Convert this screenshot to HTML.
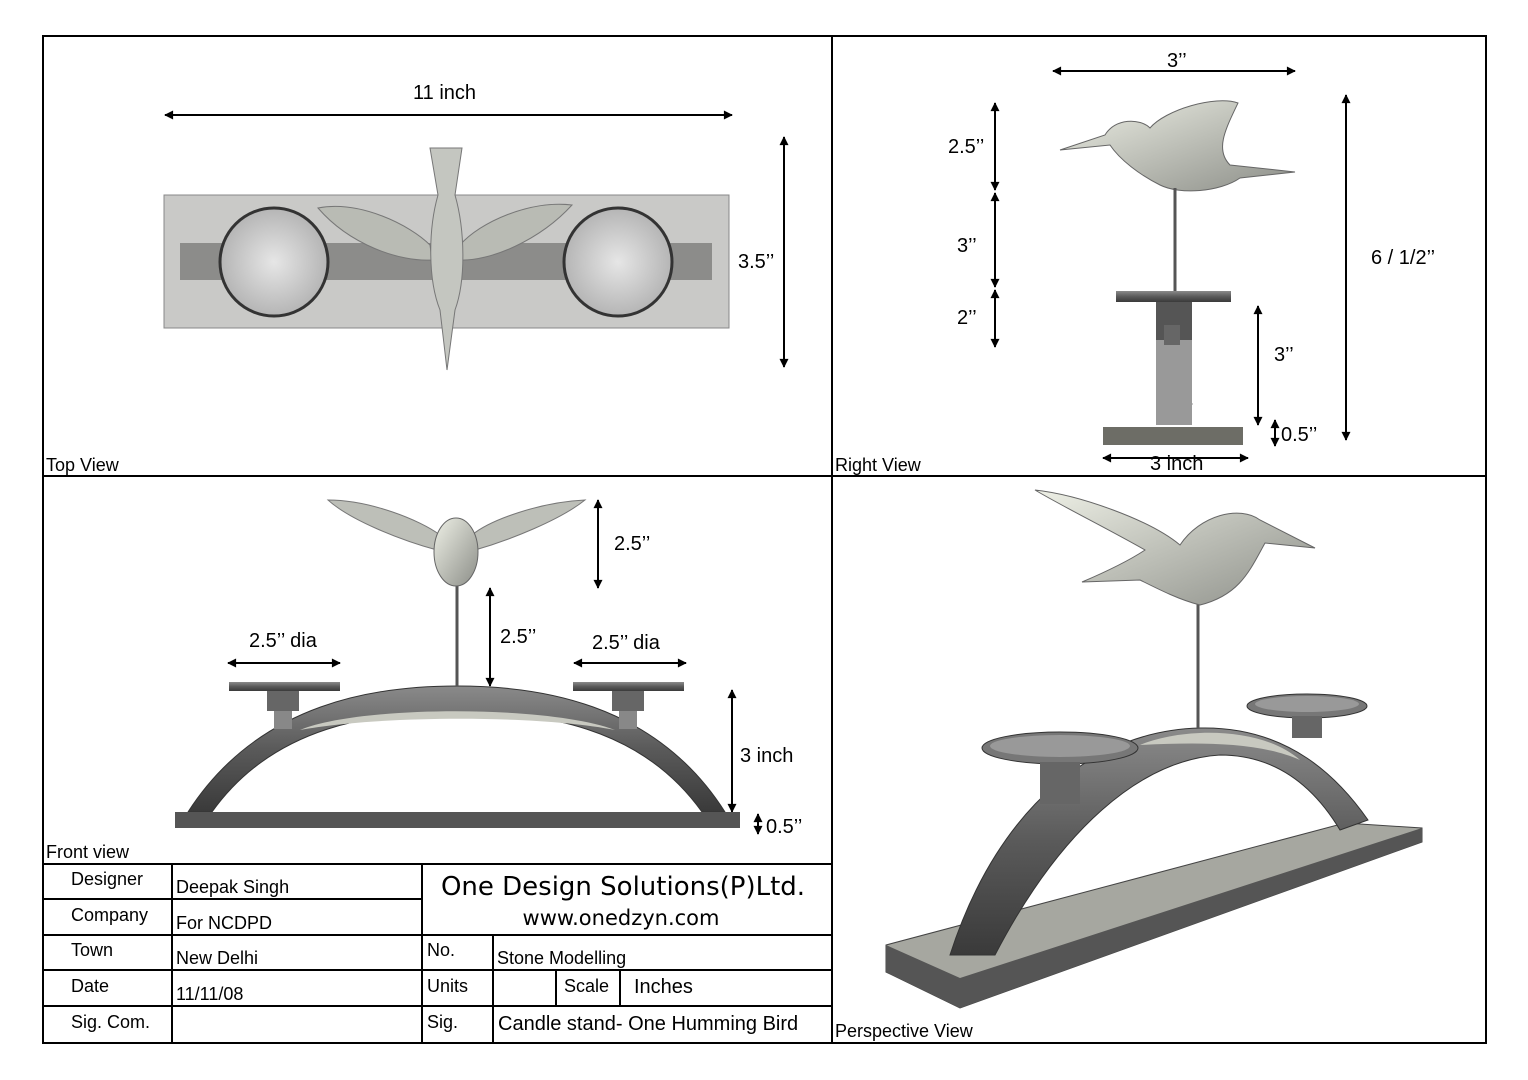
<!DOCTYPE html>
<html><head><meta charset="utf-8"><style>
body{margin:0;background:#fff}
svg{display:block;font-family:"Liberation Sans",sans-serif}
</style></head><body>
<svg width="1528" height="1080" viewBox="0 0 1528 1080" xmlns="http://www.w3.org/2000/svg">
<defs>
<marker id="a" viewBox="0 0 10 10" refX="9" refY="5" markerWidth="14" markerHeight="9" orient="auto-start-reverse" markerUnits="userSpaceOnUse"><path d="M0,0 L10,5 L0,10 z" fill="#000"/></marker>
<linearGradient id="bg" x1="0" y1="0" x2="1" y2="1"><stop offset="0" stop-color="#eef0e6"/><stop offset="1" stop-color="#8c8e88"/></linearGradient>
<radialGradient id="cg"><stop offset="0" stop-color="#e6e6e6"/><stop offset="1" stop-color="#b5b5b5"/></radialGradient>
<linearGradient id="dk" x1="0" y1="0" x2="0" y2="1"><stop offset="0" stop-color="#8a8a8a"/><stop offset=".5" stop-color="#5a5a5a"/><stop offset="1" stop-color="#3a3a3a"/></linearGradient>
</defs>
<g fill="none" stroke="#000" stroke-width="2">
<rect x="43" y="36" width="1443" height="1007"/>
<line x1="832" y1="36" x2="832" y2="1043"/>
<line x1="43" y1="476" x2="1486" y2="476"/>
<line x1="43" y1="864" x2="832" y2="864"/>
<line x1="43" y1="899" x2="422" y2="899"/>
<line x1="43" y1="935" x2="832" y2="935"/>
<line x1="43" y1="970" x2="832" y2="970"/>
<line x1="43" y1="1006" x2="832" y2="1006"/>
<line x1="172" y1="864" x2="172" y2="1043"/>
<line x1="422" y1="864" x2="422" y2="1043"/>
<line x1="493" y1="935" x2="493" y2="1043"/>
<line x1="556" y1="970" x2="556" y2="1006"/>
<line x1="620" y1="970" x2="620" y2="1006"/>
</g>
<g font-size="18" fill="#000">
<text x="71" y="885">Designer</text><text x="71" y="921">Company</text><text x="71" y="956">Town</text><text x="71" y="992">Date</text><text x="71" y="1028">Sig. Com.</text>
<text x="176" y="893">Deepak Singh</text><text x="176" y="929">For NCDPD</text><text x="176" y="964">New Delhi</text><text x="176" y="1000">11/11/08</text>
<text x="427" y="956">No.</text><text x="427" y="992">Units</text><text x="427" y="1028">Sig.</text>
<text x="497" y="964">Stone Modelling</text><text x="564" y="992">Scale</text><text x="634" y="993" font-size="20">Inches</text>
<text x="498" y="1030" font-size="20">Candle stand- One Humming Bird</text>
<text x="623" y="895" font-size="26" text-anchor="middle" font-family="DejaVu Sans,sans-serif">One Design Solutions(P)Ltd.</text>
<text x="621" y="925" font-size="21" text-anchor="middle" font-family="DejaVu Sans,sans-serif">www.onedzyn.com</text>
<text x="46" y="471">Top View</text><text x="835" y="471">Right View</text><text x="46" y="858">Front view</text><text x="835" y="1037">Perspective View</text>
</g>
<g stroke="#000" stroke-width="2" marker-start="url(#a)" marker-end="url(#a)">
<line x1="165" y1="115" x2="732" y2="115"/>
<line x1="784" y1="137" x2="784" y2="367"/>
<line x1="1053" y1="71" x2="1295" y2="71"/>
<line x1="995" y1="103" x2="995" y2="190"/>
<line x1="995" y1="193" x2="995" y2="287"/>
<line x1="995" y1="290" x2="995" y2="347"/>
<line x1="1346" y1="95" x2="1346" y2="440"/>
<line x1="1258" y1="306" x2="1258" y2="425"/>
<line x1="1275" y1="420" x2="1275" y2="446"/>
<line x1="1103" y1="458" x2="1248" y2="458"/>
<line x1="1158" y1="404" x2="1192" y2="404"/>
<line x1="598" y1="500" x2="598" y2="588"/>
<line x1="490" y1="588" x2="490" y2="686"/>
<line x1="228" y1="663" x2="340" y2="663"/>
<line x1="574" y1="663" x2="686" y2="663"/>
<line x1="732" y1="690" x2="732" y2="812"/>
<line x1="758" y1="814" x2="758" y2="834"/>
</g>
<g font-size="20" fill="#000">
<text x="413" y="99">11 inch</text><text x="738" y="268">3.5’’</text>
<text x="1167" y="67">3’’</text><text x="948" y="153">2.5’’</text><text x="957" y="252">3’’</text><text x="957" y="324">2’’</text>
<text x="1371" y="264">6 / 1/2’’</text><text x="1274" y="361">3’’</text><text x="1281" y="441">0.5’’</text><text x="1164" y="391">1’’</text><text x="1150" y="470">3 inch</text>
<text x="614" y="550">2.5’’</text><text x="500" y="643">2.5’’</text><text x="249" y="647">2.5’’ dia</text><text x="592" y="649">2.5’’ dia</text>
<text x="740" y="762">3 inch</text><text x="766" y="833">0.5’’</text>
</g>
<rect x="164" y="195" width="565" height="133" fill="#c9c9c7" stroke="#888"/>
<rect x="180" y="243" width="532" height="37" fill="#8c8c8a"/>
<circle cx="274" cy="262" r="54" fill="url(#cg)" stroke="#333" stroke-width="3"/>
<circle cx="618" cy="262" r="54" fill="url(#cg)" stroke="#333" stroke-width="3"/>
<path d="M318,208 C360,200 410,225 430,245 L432,260 C400,262 350,245 318,208Z" fill="#b9bbb4" stroke="#777"/>
<path d="M572,205 C530,200 480,222 460,245 L458,260 C490,262 540,240 572,205Z" fill="#b9bbb4" stroke="#777"/>
<path d="M430,148 L462,148 L455,195 C465,230 466,280 455,310 L447,370 L440,310 C428,280 428,230 438,195Z" fill="#c4c6c0" stroke="#777"/>
<path d="M1060,150 L1105,135 C1115,118 1140,118 1150,128 C1165,110 1215,95 1238,103 C1225,130 1215,150 1230,165 L1295,172 L1240,178 C1220,192 1180,195 1160,185 C1140,175 1120,160 1110,145Z" fill="url(#bg)" stroke="#666"/>
<line x1="1175" y1="188" x2="1175" y2="292" stroke="#555" stroke-width="3"/>
<rect x="1116" y="291" width="115" height="11" fill="url(#dk)"/>
<rect x="1156" y="302" width="36" height="38" fill="#555"/>
<rect x="1156" y="340" width="36" height="85" fill="#999"/>
<rect x="1164" y="325" width="16" height="20" fill="#666"/>
<rect x="1103" y="427" width="140" height="18" fill="#6d6d66"/>
<path d="M188,812 C260,700 380,686 457,686 C534,686 654,700 725,812 L702,812 C640,725 540,712 457,712 C374,712 274,725 212,812Z" fill="url(#dk)" stroke="#333"/>
<path d="M300,730 C360,705 550,705 615,730 C540,715 380,715 300,730Z" fill="#c8c9c0"/>
<rect x="175" y="812" width="565" height="16" fill="#555"/>
<rect x="229" y="682" width="111" height="9" fill="url(#dk)"/>
<rect x="573" y="682" width="111" height="9" fill="url(#dk)"/>
<rect x="267" y="691" width="32" height="20" fill="#666"/><rect x="274" y="711" width="18" height="18" fill="#888"/>
<rect x="612" y="691" width="32" height="20" fill="#666"/><rect x="619" y="711" width="18" height="18" fill="#888"/>
<line x1="457" y1="580" x2="457" y2="686" stroke="#555" stroke-width="3"/>
<path d="M328,500 C370,500 420,520 440,535 L437,550 C400,540 350,520 328,500Z" fill="#bdbfb8" stroke="#777"/>
<path d="M585,500 C540,502 490,520 472,535 L475,550 C510,540 560,520 585,500Z" fill="#bdbfb8" stroke="#777"/>
<ellipse cx="456" cy="552" rx="22" ry="34" fill="url(#bg)" stroke="#666"/>
<path d="M886,945 L1345,823 L1422,828 L1422,842 L960,1008 L886,972Z" fill="#a6a7a0" stroke="#444"/>
<path d="M886,945 L960,978 L1422,828 L1422,842 L960,1008 L886,972Z" fill="#555"/>
<path d="M950,955 C1000,800 1100,730 1200,728 C1290,726 1340,780 1368,820 L1340,830 C1310,780 1270,755 1220,755 C1140,760 1060,830 995,955Z" fill="url(#dk)" stroke="#333"/>
<path d="M1140,745 C1180,728 1260,725 1300,760 C1260,742 1200,742 1140,745Z" fill="#c8c9c0"/>
<ellipse cx="1060" cy="748" rx="78" ry="16" fill="#777" stroke="#333"/>
<ellipse cx="1060" cy="746" rx="70" ry="11" fill="#999"/>
<rect x="1040" y="762" width="40" height="42" fill="#666"/>
<ellipse cx="1307" cy="706" rx="60" ry="12" fill="#777" stroke="#333"/>
<ellipse cx="1307" cy="704" rx="52" ry="8" fill="#999"/>
<rect x="1292" y="716" width="30" height="22" fill="#666"/>
<line x1="1198" y1="600" x2="1198" y2="728" stroke="#555" stroke-width="3"/>
<path d="M1035,490 C1080,495 1150,520 1180,545 C1200,515 1240,505 1260,520 L1315,548 L1265,543 C1250,570 1240,595 1200,605 C1180,600 1160,590 1140,580 L1082,582 C1110,570 1130,560 1145,550 C1110,530 1060,505 1035,490Z" fill="url(#bg)" stroke="#666"/>
</svg>
</body></html>
